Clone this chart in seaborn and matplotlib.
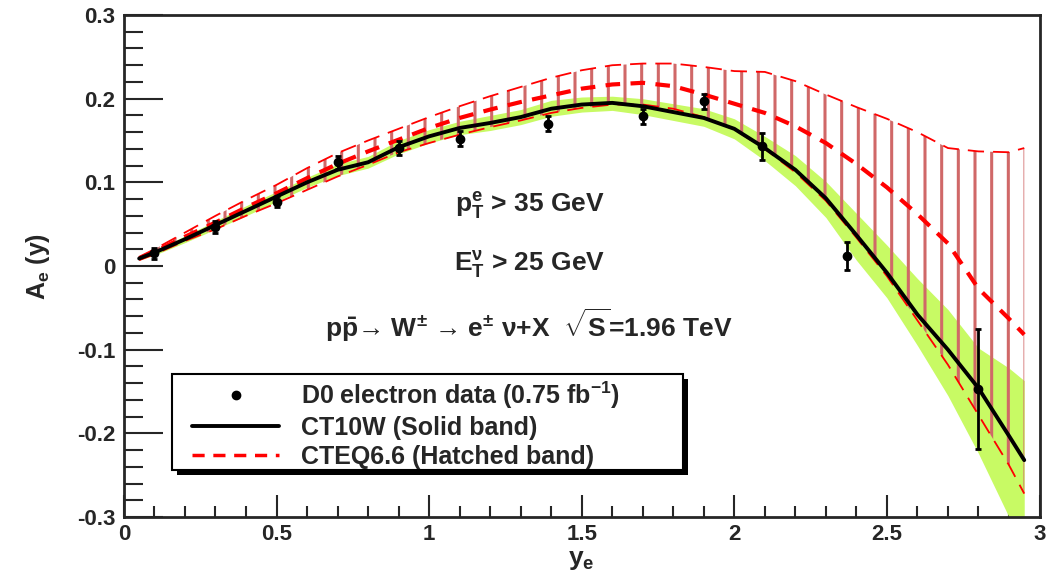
import matplotlib
matplotlib.use("Agg")
import matplotlib.pyplot as plt
from matplotlib.lines import Line2D
from matplotlib.patches import Rectangle
import seaborn as sns
import numpy as np
import pandas as pd

# rapidity grid for the theory curves
y_grid = [0.05, 0.1, 0.2, 0.3, 0.4, 0.5, 0.6, 0.7, 0.8, 0.9, 1.0, 1.1, 1.2, 1.3, 1.4, 1.5,
          1.6, 1.7, 1.8, 1.9, 2.0, 2.1, 2.2, 2.3, 2.4, 2.5, 2.6, 2.7, 2.8, 2.9, 2.95]

# CT10W central + solid band
ct10w = [0.009, 0.016, 0.032, 0.049, 0.066, 0.083, 0.100, 0.115, 0.124, 0.142, 0.155, 0.165,
         0.171, 0.178, 0.188, 0.193, 0.195, 0.191, 0.184, 0.177, 0.164, 0.141, 0.115, 0.081,
         0.037, -0.008, -0.058, -0.100, -0.146, -0.203, -0.232]
ct10w_up = [0.011, 0.019, 0.036, 0.054, 0.072, 0.089, 0.106, 0.122, 0.131, 0.150, 0.163, 0.173,
            0.180, 0.187, 0.198, 0.202, 0.203, 0.200, 0.194, 0.188, 0.176, 0.155, 0.132, 0.101,
            0.063, 0.025, -0.015, -0.052, -0.098, -0.122, -0.137]
ct10w_lo = [0.007, 0.013, 0.028, 0.044, 0.060, 0.077, 0.094, 0.108, 0.117, 0.134, 0.147, 0.157,
            0.162, 0.169, 0.179, 0.184, 0.186, 0.181, 0.174, 0.167, 0.152, 0.126, 0.096, 0.058,
            0.007, -0.038, -0.095, -0.155, -0.224, -0.300, -0.335]

# CTEQ6.6 central + hatched band
cteq66 = [0.009, 0.017, 0.035, 0.052, 0.070, 0.087, 0.105, 0.122, 0.137, 0.151, 0.165, 0.177,
          0.187, 0.196, 0.204, 0.212, 0.217, 0.219, 0.215, 0.205, 0.194, 0.183, 0.167, 0.147,
          0.122, 0.094, 0.062, 0.027, -0.027, -0.063, -0.082]
cteq66_up = [0.011, 0.020, 0.040, 0.060, 0.079, 0.097, 0.117, 0.135, 0.150, 0.164, 0.178, 0.191,
             0.203, 0.214, 0.225, 0.234, 0.240, 0.242, 0.242, 0.238, 0.233, 0.232, 0.221, 0.205,
             0.190, 0.176, 0.160, 0.141, 0.137, 0.136, 0.141]
cteq66_lo = [0.007, 0.014, 0.030, 0.044, 0.060, 0.075, 0.091, 0.107, 0.121, 0.136, 0.147, 0.157,
             0.166, 0.174, 0.183, 0.189, 0.193, 0.193, 0.188, 0.178, 0.163, 0.140, 0.112, 0.078,
             0.034, -0.012, -0.065, -0.118, -0.178, -0.238, -0.272]

# D0 electron data
d0_y = [0.1, 0.3, 0.5, 0.7, 0.9, 1.1, 1.39, 1.7, 1.9, 2.09, 2.37, 2.8]
d0_a = [0.015, 0.047, 0.077, 0.124, 0.141, 0.152, 0.170, 0.179, 0.197, 0.143, 0.012, -0.147]
d0_err = [0.007, 0.007, 0.007, 0.008, 0.008, 0.009, 0.009, 0.009, 0.009, 0.016, 0.017, 0.072]

sns.set_style("ticks")
plt.rcParams["font.family"] = ["Liberation Sans", "DejaVu Sans"]
plt.rcParams["font.weight"] = "bold"
plt.rcParams["axes.labelweight"] = "bold"
plt.rcParams["mathtext.fontset"] = "custom"
plt.rcParams["mathtext.rm"] = "Liberation Sans:bold"
plt.rcParams["mathtext.bf"] = "Liberation Sans:bold"
plt.rcParams["mathtext.it"] = "Liberation Sans:bold"
plt.rcParams["mathtext.default"] = "bf"
plt.rcParams["hatch.linewidth"] = 2.2
plt.rcParams["hatch.color"] = "#d06868"

curves = pd.DataFrame({"y": y_grid, "ct10w": ct10w, "cteq66": cteq66})

fig = plt.figure(figsize=(10.5, 5.78), dpi=100)
ax = fig.add_axes([0.118, 0.1055, 0.872, 0.8685])

ax.fill_between(y_grid, ct10w_lo, ct10w_up, color="#c8fa64", lw=0, zorder=1)
ax.fill_between(y_grid, cteq66_lo, cteq66_up, facecolor="none", edgecolor="#d06868",
                hatch="|", lw=0, zorder=2)
ax.plot(y_grid, cteq66_up, color="red", lw=1.3, ls=(0, (9, 5)), zorder=3)
ax.plot(y_grid, cteq66_lo, color="red", lw=1.3, ls=(0, (9, 5)), zorder=3)

sns.lineplot(data=curves, x="y", y="cteq66", ax=ax, color="red", lw=3,
             linestyle=(0, (3.5, 2.5)), zorder=4, legend=False)
sns.lineplot(data=curves, x="y", y="ct10w", ax=ax, color="black", lw=2.8, zorder=5,
             legend=False)
ax.errorbar(d0_y, d0_a, yerr=d0_err, fmt="o", color="black", ms=6, elinewidth=2,
            capsize=2, capthick=2, zorder=6)

ax.set_xlim(0, 3)
ax.set_ylim(-0.3, 0.3)
ax.set_xticks(np.arange(0, 3.01, 0.5))
ax.set_xticklabels(["0", "0.5", "1", "1.5", "2", "2.5", "3"])
ax.set_yticks(np.arange(-0.3, 0.301, 0.1))
ax.set_yticklabels(["-0.3", "-0.2", "-0.1", "0", "0.1", "0.2", "0.3"])
ax.set_xticks(np.arange(0, 3.01, 0.1), minor=True)
ax.set_yticks(np.arange(-0.3, 0.301, 0.02), minor=True)
ax.tick_params(axis="x", which="major", direction="in", length=16, width=1.5, labelsize=16, pad=5)
ax.tick_params(axis="x", which="minor", direction="in", length=8, width=1.5)
ax.tick_params(axis="y", which="major", direction="in", length=28, width=1.5, labelsize=16, pad=6)
ax.tick_params(axis="y", which="minor", direction="in", length=14, width=1.5)
for s in ax.spines.values():
    s.set_linewidth(2)
    s.set_visible(True)

ax.set_xlabel("y$_{e}$", fontsize=19, labelpad=2)
ax.set_ylabel("A$_{e}$ (y)", fontsize=18, labelpad=18)

ax.text(0.443, 0.62, r"p$_{T}^{e}$ > 35 GeV", transform=ax.transAxes, fontsize=19,
        ha="center", va="center")
ax.text(0.443, 0.504, r"E$_{T}^{\nu}$ > 25 GeV", transform=ax.transAxes, fontsize=19,
        ha="center", va="center")
ax.text(0.442, 0.382, "p$\\bar{p}$→ W$^{\\pm}$ → e$^{\\pm}$ ν+X  $\\sqrt{S}$=1.96 TeV",
        transform=ax.transAxes, fontsize=19, ha="center", va="center")

# ROOT-style legend box with a hard shadow
ax.add_patch(Rectangle((0.0524 + 0.0055, 0.0936 - 0.009), 0.558, 0.1913, transform=ax.transAxes,
                       facecolor="black", edgecolor="none", zorder=7))
ax.add_patch(Rectangle((0.0524, 0.0936), 0.558, 0.1913, transform=ax.transAxes,
                       facecolor="white", edgecolor="black", lw=1.5, zorder=7.5))
handles = [Line2D([], [], marker="o", color="black", ls="none", ms=6),
           Line2D([], [], color="black", lw=2.8),
           Line2D([], [], color="red", lw=2.5, ls=(0, (3.5, 2.5)))]
labels = ["D0 electron data (0.75 fb$^{-1}$)", "CT10W (Solid band)", "CTEQ6.6 (Hatched band)"]
leg = ax.legend(handles, labels, loc="upper left", bbox_to_anchor=(0.0742, 0.274),
                fontsize=18, frameon=False, handlelength=3.5, handletextpad=0.85,
                borderpad=0, borderaxespad=0, labelspacing=0.2)
leg.set_zorder(8)

fig.savefig("out.png", dpi=100)
